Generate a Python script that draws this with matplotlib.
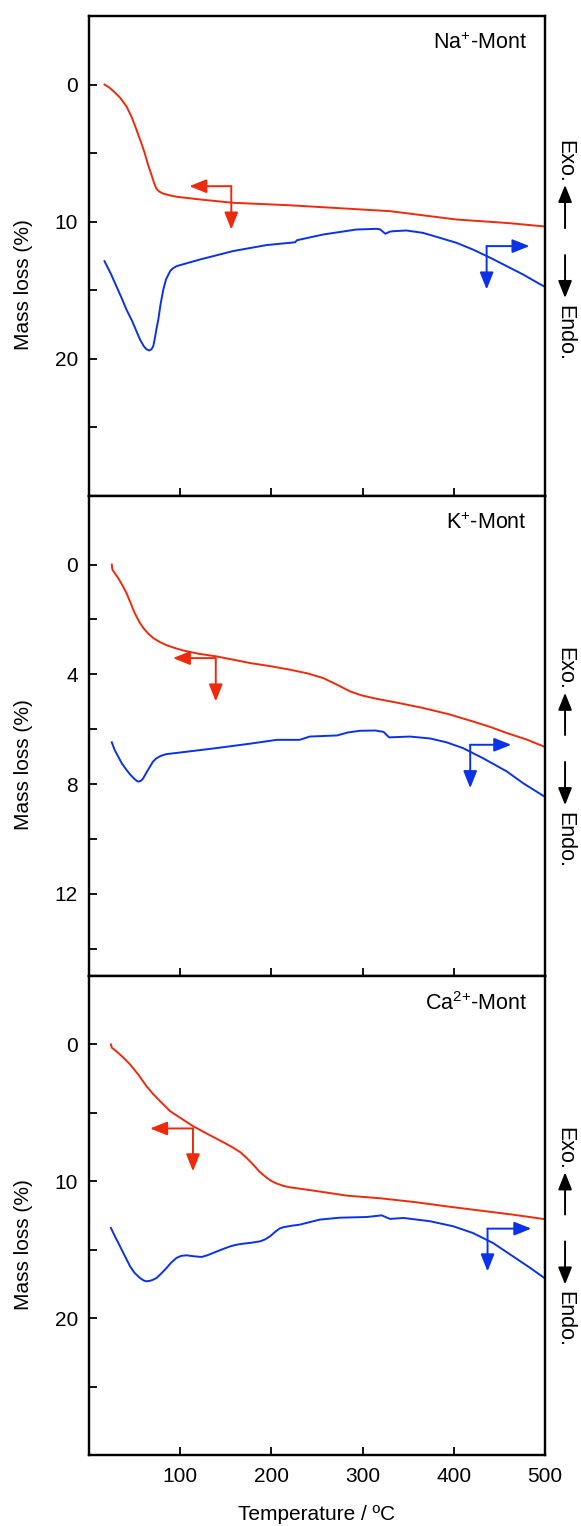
import matplotlib
matplotlib.use('Agg')
import matplotlib.pyplot as plt
from matplotlib.ticker import FixedLocator

plt.rcParams['font.family'] = ['Liberation Sans', 'DejaVu Sans']
plt.rcParams['mathtext.fontset'] = 'custom'
plt.rcParams['mathtext.rm'] = 'Liberation Sans'
plt.rcParams['mathtext.default'] = 'regular'

RED = '#ee2a0c'
BLUE = '#0a32e8'

# ---- Na+-Mont ----
na_tg_T = [17, 22, 27, 34, 41, 47, 52, 57, 61, 65, 69, 71.5, 74, 77, 81, 88, 96, 122, 158, 220,
           330, 403, 460, 500]
na_tg = [0, 0.2, 0.49, 0.95, 1.58, 2.4, 3.28, 4.2, 4.98, 5.9, 6.68, 7.2, 7.6, 7.8, 7.94, 8.07,
         8.18, 8.38, 8.62, 8.8, 9.23, 9.84, 10.1, 10.35]
na_dta_T = [17, 24, 30, 36, 41, 47, 52, 56, 60, 63, 66, 68.5, 70.5, 72.5, 74, 76, 78.5, 81.5,
            84.5, 89, 92, 96, 122, 158, 195, 220, 226, 228, 257, 293, 315, 319, 325, 330, 334,
            348, 366, 385, 403, 421, 440, 458, 476, 493, 500]
na_dta = [12.88, 13.8, 14.7, 15.6, 16.4, 17.2, 17.98, 18.6, 19.07, 19.3, 19.39, 19.3, 19.07,
          18.4, 17.8, 17.13, 16.0, 14.94, 14.2, 13.6, 13.4, 13.24, 12.75, 12.14, 11.7, 11.54,
          11.5, 11.35, 10.93, 10.57, 10.52, 10.55, 10.88, 10.72, 10.69, 10.64, 10.81, 11.18,
          11.54, 12.03, 12.63, 13.24, 13.85, 14.5, 14.75]

# ---- K+-Mont ----
k_tg_T = [25, 25.6, 29, 32, 36, 41, 45, 50, 55, 59.5, 65, 70.5, 78, 85, 94, 103, 120, 140, 160,
          176.5, 200, 220, 240, 257, 272, 286, 298, 312, 340, 366.5, 395, 421, 440, 458, 480, 500]
k_tg = [0, 0.18, 0.35, 0.49, 0.72, 1.03, 1.35, 1.76, 2.08, 2.31, 2.52, 2.68, 2.83, 2.94, 3.04,
        3.13, 3.25, 3.35, 3.48, 3.59, 3.71, 3.83, 3.97, 4.14, 4.38, 4.62, 4.76, 4.87, 5.05, 5.23,
        5.46, 5.72, 5.92, 6.14, 6.38, 6.65]
k_dta_T = [25, 28, 32, 36, 41, 45, 50, 53, 55, 57.5, 59.5, 63, 67, 70, 74, 79, 85, 103, 140,
           176.5, 206, 231, 242, 272, 284, 297, 314, 323, 329, 337, 352, 374, 392, 410, 432,
           458, 476, 500]
k_dta = [6.48, 6.75, 7.0, 7.25, 7.48, 7.65, 7.82, 7.9, 7.91, 7.87, 7.79, 7.58, 7.36, 7.19, 7.06,
         6.97, 6.91, 6.84, 6.69, 6.53, 6.39, 6.39, 6.27, 6.23, 6.12, 6.06, 6.05, 6.1, 6.3, 6.29,
         6.27, 6.34, 6.48, 6.69, 7.06, 7.54, 7.97, 8.47]

# ---- Ca2+-Mont ----
ca_tg_T = [24, 25, 30, 35, 40, 45, 54, 63, 70, 78, 89, 100, 114, 129, 147, 157, 166, 173, 180,
           187, 195, 200, 206, 213, 220, 246, 283, 319, 356, 392, 429, 465, 500]
ca_tg = [0, 0.24, 0.5, 0.8, 1.12, 1.46, 2.2, 3.05, 3.6, 4.15, 4.88, 5.36, 5.97, 6.51, 7.14, 7.5,
         7.88, 8.3, 8.78, 9.3, 9.75, 9.98, 10.17, 10.33, 10.44, 10.68, 11.05, 11.24, 11.51,
         11.83, 12.14, 12.44, 12.77]
ca_dta_T = [24, 29, 34, 40, 45, 50, 56, 60, 63, 67, 70, 74, 79, 85, 90, 96, 101, 107, 115,
            123.5, 130, 136, 145, 155, 162, 169, 178, 187.5, 193, 198.5, 204, 209, 213, 222, 231,
            253, 275, 304.5, 321, 330, 345, 374, 399.5, 421, 443, 465, 484, 500]
ca_dta = [13.41, 14.1, 14.75, 15.55, 16.21, 16.7, 17.07, 17.25, 17.31, 17.27, 17.2, 17.07, 16.75,
          16.34, 15.95, 15.6, 15.45, 15.41, 15.48, 15.53, 15.4, 15.24, 15.0, 14.75, 14.63, 14.56,
          14.49, 14.39, 14.25, 14.02, 13.7, 13.45, 13.36, 13.25, 13.17, 12.8, 12.66, 12.61,
          12.49, 12.75, 12.68, 12.92, 13.29, 13.78, 14.51, 15.49, 16.34, 17.1]

samples = [r'Na$^{+}$-Mont', r'K$^{+}$-Mont', r'Ca$^{2{+}}$-Mont']
ylims = [(30, -5), (15, -2.5), (30, -5)]
major_ticks = [[0, 10, 20], [0, 4, 8, 12], [0, 10, 20]]
minor_ticks = [[5, 15, 25], [2, 6, 10, 14], [5, 15, 25]]
# arrow indicators: (corner T, corner y, tip T, tip y)
tg_arrows = [(156, 7.41, 110, 10.57), (139, 3.41, 92, 4.99), (114, 6.14, 67, 9.27)]
dta_arrows = [(436, 11.78, 483, 14.94), (418, 6.57, 463, 8.15), (437, 13.46, 485, 16.58)]

tg_data = [(na_tg_T, na_tg), (k_tg_T, k_tg), (ca_tg_T, ca_tg)]
dta_data = [(na_dta_T, na_dta), (k_dta_T, k_dta), (ca_dta_T, ca_dta)]

W, H = 581, 1526
fig = plt.figure(figsize=(W / 100, H / 100), dpi=100)
left, right = 89, 545
tops = [16, 496, 976]
bottoms = [496, 976, 1455]
FS = 15

for i in range(3):
    ax = fig.add_axes([left / W, 1 - bottoms[i] / H, (right - left) / W, (bottoms[i] - tops[i]) / H])
    ax2 = ax.twinx()
    ax.set_xlim(0, 500)
    ax.set_ylim(*ylims[i])
    ax2.set_ylim(*ylims[i])
    ax2.tick_params(right=False, labelright=False)
    ax2.set_yticks([])

    T, v = dta_data[i]
    ax2.plot(T, v, color=BLUE, lw=1.4, solid_joinstyle='round')
    T, v = tg_data[i]
    ax.plot(T, v, color=RED, lw=1.4, zorder=3, solid_joinstyle='round')

    ax.yaxis.set_major_locator(FixedLocator(major_ticks[i]))
    ax.yaxis.set_minor_locator(FixedLocator(minor_ticks[i]))
    ax.set_xticks([100, 200, 300, 400, 500])
    ax.tick_params(axis='both', which='both', direction='in', length=6, width=1.3,
                   top=False, right=False, labelsize=FS)
    ax.tick_params(axis='y', pad=8)
    ax.tick_params(axis='x', pad=9)
    if i < 2:
        ax.tick_params(axis='x', labelbottom=False)
    else:
        ax.set_xlabel('Temperature / ºC', fontsize=FS, labelpad=13)

    for a in (ax, ax2):
        for s in a.spines.values():
            s.set_linewidth(1.6)

    ax.set_ylabel('Mass loss (%)', fontsize=FS)
    ax.yaxis.set_label_coords(-0.122, 0.44)

    ax.text(0.961, 0.943, samples[i], transform=ax.transAxes, ha='right', va='center', fontsize=FS + 0.5)

    # TG / DTA direction arrows
    cx, cy, tx, ty = tg_arrows[i]
    ap = dict(arrowstyle='-|>,head_length=0.8,head_width=0.32', lw=1.4, shrinkA=0, shrinkB=0,
              mutation_scale=13)
    ax.annotate('', xy=(tx, cy), xytext=(cx, cy), arrowprops=dict(ap, color=RED), zorder=4)
    ax.annotate('', xy=(cx, ty), xytext=(cx, cy), arrowprops=dict(ap, color=RED), zorder=4)
    cx, cy, tx, ty = dta_arrows[i]
    ax.annotate('', xy=(tx, cy), xytext=(cx, cy), arrowprops=dict(ap, color=BLUE), zorder=4)
    ax.annotate('', xy=(cx, ty), xytext=(cx, cy), arrowprops=dict(ap, color=BLUE), zorder=4)

    # Exo. / Endo. marker on the right
    if i == 0:
        fy = [0.698, 0.558, 0.648, 0.502, 0.4125, 0.339]
    else:
        fy = [0.640, 0.502, 0.590, 0.446, 0.356, 0.283]
    xf = 1.044
    ax.text(xf, fy[0], 'Exo.', transform=ax.transAxes, rotation=-90, ha='center', va='center',
            fontsize=FS + 0.5)
    ax.annotate('', xy=(xf, fy[2]), xytext=(xf, fy[1]), xycoords='axes fraction',
                textcoords='axes fraction', annotation_clip=False,
                arrowprops=dict(ap, color='black'))
    ax.annotate('', xy=(xf, fy[4]), xytext=(xf, fy[3]), xycoords='axes fraction',
                textcoords='axes fraction', annotation_clip=False,
                arrowprops=dict(ap, color='black'))
    ax.text(xf, fy[5], 'Endo.', transform=ax.transAxes, rotation=-90, ha='center', va='center',
            fontsize=FS + 0.5)

fig.savefig('out.png', dpi=100)
